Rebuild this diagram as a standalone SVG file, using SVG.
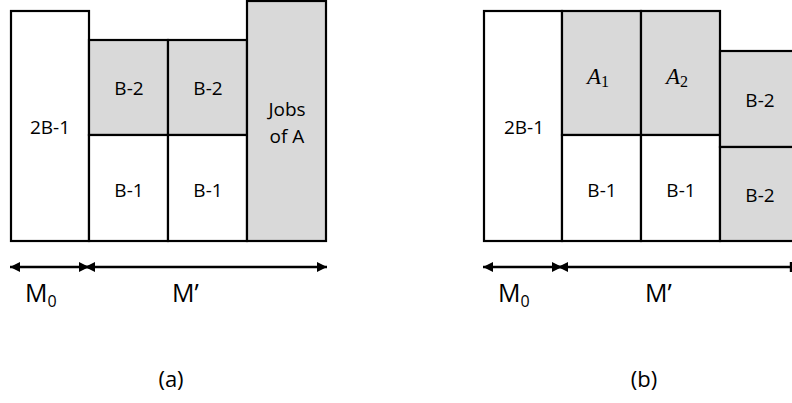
<svg xmlns="http://www.w3.org/2000/svg" width="792" height="403" viewBox="0 0 792 403">
<style>
.box{stroke:#000;stroke-width:2.2;}
.w{fill:#fff;}
.g{fill:#d9d9d9;}
.t{font-family:"Open Sans","Liberation Sans",sans-serif;font-size:19px;fill:#000;text-anchor:middle;}
.m{font-family:"Open Sans","Liberation Sans",sans-serif;font-size:25px;fill:#000;}
.c{font-family:"Open Sans","Liberation Sans",sans-serif;font-size:22px;fill:#000;text-anchor:middle;}
.a{font-family:"Liberation Serif",serif;font-size:23px;fill:#000;}
.ln{stroke:#000;stroke-width:2.4;fill:none;}
</style>
<defs>
<marker id="ah" viewBox="0 0 10 10" refX="10" refY="5" markerWidth="10" markerHeight="11" orient="auto-start-reverse" markerUnits="userSpaceOnUse">
<path d="M0,0 L10,5 L0,10 Z" fill="#000"/>
</marker>
</defs>
<g id="panel-a">
<g id="a-2b1"><rect class="box w" x="11" y="11" width="78" height="230"/><text class="t" x="50" y="134">2B-1</text></g>
<g id="a-b2-1"><rect class="box g" x="89" y="40" width="79" height="95"/><text class="t" x="129" y="95">B-2</text></g>
<g id="a-b2-2"><rect class="box g" x="168" y="40" width="79" height="95"/><text class="t" x="208" y="95">B-2</text></g>
<g id="a-b1-1"><rect class="box w" x="89" y="135" width="79" height="106"/><text class="t" x="129" y="197">B-1</text></g>
<g id="a-b1-2"><rect class="box w" x="168" y="135" width="79" height="106"/><text class="t" x="208" y="197">B-1</text></g>
<g id="a-jobs"><rect class="box g" x="247" y="1" width="79" height="240"/><text class="t" x="287" y="116">Jobs</text><text class="t" x="287" y="143">of A</text></g>
</g>
<g id="panel-b">
<g id="b-2b1"><rect class="box w" x="484" y="11" width="78" height="230"/><text class="t" x="524" y="134">2B-1</text></g>
<g id="b-a1"><rect class="box g" x="562" y="11" width="79" height="124"/><text class="a" x="587" y="84"><tspan font-style="italic">A</tspan><tspan font-size="16" dy="3">1</tspan></text></g>
<g id="b-a2"><rect class="box g" x="641" y="11" width="79" height="124"/><text class="a" x="666" y="84"><tspan font-style="italic">A</tspan><tspan font-size="16" dy="3">2</tspan></text></g>
<g id="b-b1-1"><rect class="box w" x="562" y="135" width="79" height="106"/><text class="t" x="602" y="197">B-1</text></g>
<g id="b-b1-2"><rect class="box w" x="641" y="135" width="79" height="106"/><text class="t" x="681" y="197">B-1</text></g>
<g id="b-b2-top"><rect class="box g" x="720" y="51" width="80" height="96"/><text class="t" x="760" y="107">B-2</text></g>
<g id="b-b2-bot"><rect class="box g" x="720" y="147" width="80" height="94"/><text class="t" x="760" y="202">B-2</text></g>
</g>
<g id="connectors">
<line class="ln" x1="10" y1="267" x2="89" y2="267" marker-start="url(#ah)" marker-end="url(#ah)"/>
<line class="ln" x1="85" y1="267" x2="327" y2="267" marker-start="url(#ah)" marker-end="url(#ah)"/>
<line class="ln" x1="483" y1="267" x2="562" y2="267" marker-start="url(#ah)" marker-end="url(#ah)"/>
<line class="ln" x1="558" y1="267" x2="792" y2="267" marker-start="url(#ah)"/>
<line class="ln" x1="791" y1="262" x2="791" y2="272"/>
</g>
<g id="labels">
<text class="m" x="25" y="302">M<tspan font-size="16" dy="5">0</tspan></text>
<text class="m" x="172" y="302">M’</text>
<text class="m" x="498" y="302">M<tspan font-size="16" dy="5">0</tspan></text>
<text class="m" x="645" y="302">M’</text>
<text class="c" x="171" y="387">(a)</text>
<text class="c" x="644" y="387">(b)</text>
</g>
</svg>
